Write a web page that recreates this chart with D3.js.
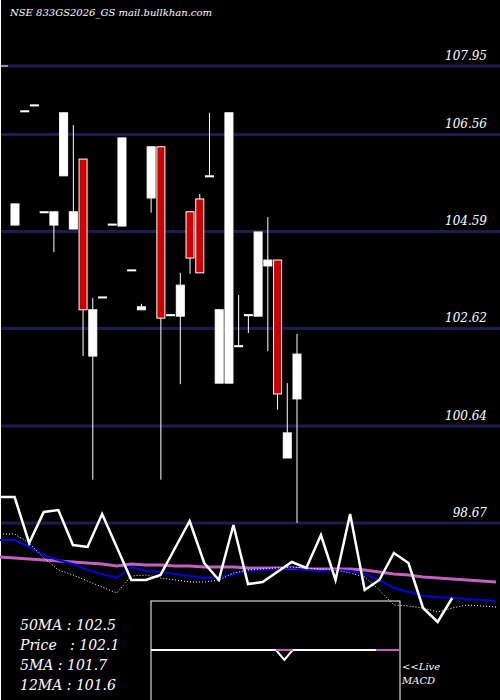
<!DOCTYPE html>
<html>
<head>
<meta charset="utf-8">
<script src="https://cdn.jsdelivr.net/npm/d3@7"></script>
<style>
  body { margin: 0; background: #000; }
  text { font-family: "DejaVu Serif", "Liberation Serif", serif; font-style: italic; fill: #fff; }
</style>
</head>
<body>
<svg id="chart" width="500" height="700"></svg>
<script>
// price levels drawn as grid lines
var levels = [107.95, 106.56, 104.59, 102.62, 100.64, 98.67];

// candles: open, close, high, low
var opens  = [104.72, 107.04, 107.16, 104.99, 104.72, 105.72, 104.64, 106.06, 102.06, 103.26, 104.74, 104.70, 103.81, 103.00, 105.27, 106.31, 102.90, 102.87, 104.99, 105.25, 105.72, 101.51, 101.51, 102.27, 102.90, 102.87, 103.89, 104.01, 99.99, 101.19];
var closes = [105.15, 107.04, 107.16, 104.99, 104.99, 107.00, 104.99, 103.00, 103.00, 103.26, 104.74, 106.49, 103.81, 103.06, 106.31, 102.83, 102.90, 103.50, 104.05, 103.75, 105.72, 103.00, 107.00, 102.27, 102.90, 104.58, 104.01, 101.29, 100.50, 102.10];
var highs  = [105.15, 107.04, 107.16, 104.99, 104.99, 107.00, 106.75, 106.06, 103.24, 103.26, 104.74, 106.49, 103.81, 103.12, 106.31, 106.31, 102.90, 103.75, 104.99, 105.35, 107.00, 103.00, 107.00, 103.30, 102.90, 104.58, 104.88, 104.01, 101.51, 102.51];
var lows   = [104.72, 107.04, 107.16, 104.99, 104.17, 105.72, 104.64, 102.06, 99.55, 103.26, 104.74, 104.70, 103.81, 103.00, 104.97, 99.55, 102.90, 101.49, 103.73, 103.75, 105.72, 101.51, 101.51, 102.27, 102.53, 102.87, 102.16, 100.97, 100.50, 98.67];

// lower panel indicator series
var oscLine = [497, 497, 543, 512, 510, 545, 547, 514, 547, 580, 580, 575, 548, 521, 563, 580, 525, 584, 582, 572, 562, 568, 535, 580, 514, 590, 580, 553, 563, 608, 622, 598];
var maFast  = [534, 534, 543, 558, 570, 575, 581, 587, 593, 576, 575, 578, 580, 582, 582, 580, 573, 570, 569, 568, 567, 568, 569, 570, 573, 577, 590, 605, 606, 608, 612, 608, 605, 606, 607];
var maMid   = [540, 540, 547, 555, 560, 564, 570, 574, 578, 567, 571, 572, 574, 576, 578, 577, 574, 571, 570, 569, 568, 570, 571, 570, 571, 574, 580, 588, 592, 596, 597, 598, 599, 600, 601];
var maSlow  = [557, 558, 559, 560, 561, 562, 563, 564, 566, 564, 565, 565, 566, 566, 567, 567, 567, 568, 568, 568, 568, 569, 569, 569, 569, 570, 572, 574, 575, 577, 578, 579, 580, 581, 582];

var macdVals = [0, 0, 0, 0, 0, 0, 0, 0, 0, 0, 0, 0, 0, 0, 0, 0, -10, 0, 0, 0, 0, 0, 0, 0, 0, 0, 0, 0];
var infoLabels = ["50MA : 102.5", "Price   : 102.1", "5MA : 101.7", "12MA : 101.6"];

var svg = d3.select('#chart');
var y = d3.scaleLinear().domain([107.95, 98.67]).range([66, 523]);
var x = d3.scaleLinear().domain([0, 29]).range([15, 297]);
var bw = 8;

svg.append('rect').attr('width', 500).attr('height', 700).attr('fill', '#000');

svg.selectAll('line.grid').data(levels).enter().append('line')
    .attr('x1', 0).attr('x2', 500)
    .attr('y1', function(d) { return y(d); }).attr('y2', function(d) { return y(d); })
    .attr('stroke', '#1c1c4e').attr('stroke-width', 3);

svg.selectAll('text.lvl').data(levels).enter().append('text')
    .attr('x', 487).attr('y', function(d) { return y(d) - 6; })
    .attr('text-anchor', 'end').attr('font-size', 12)
    .text(function(d) { return d.toFixed(2); });

svg.append('line').attr('x1', 0.5).attr('x2', 0.5).attr('y1', 0).attr('y2', 700).attr('stroke', '#fff');
svg.append('line').attr('x1', 0).attr('x2', 8).attr('y1', 66).attr('y2', 66).attr('stroke', '#fff');

svg.append('text').attr('x', 10).attr('y', 16).attr('font-size', 10)
    .text('NSE 833GS2026_GS mail.bullkhan.com');

var candles = d3.range(opens.length);
var g = svg.append('g');
g.selectAll('line.wick').data(candles).enter().append('line')
    .attr('x1', function(i) { return x(i); }).attr('x2', function(i) { return x(i); })
    .attr('y1', function(i) { return y(highs[i]); }).attr('y2', function(i) { return y(lows[i]); })
    .attr('stroke', '#fff').attr('stroke-width', 1);
g.selectAll('rect.body').data(candles).enter().append('rect')
    .attr('x', function(i) { return x(i) - bw / 2; })
    .attr('y', function(i) { return y(Math.max(opens[i], closes[i])); })
    .attr('width', bw)
    .attr('height', function(i) { return Math.max(1, Math.abs(y(opens[i]) - y(closes[i]))); })
    .attr('fill', function(i) { return closes[i] < opens[i] ? '#cc0000' : '#fff'; })
    .attr('stroke', '#fff').attr('stroke-width', 1);

// lower panel
var px = d3.scaleLinear().domain([0, 34]).range([0, 496]);
var line = d3.line().x(function(d, i) { return px(i); }).y(function(d) { return d; });

svg.append('path').datum(maSlow).attr('d', line).attr('fill', 'none').attr('stroke', '#c060c0').attr('stroke-width', 3);
svg.append('path').datum(maMid).attr('d', line).attr('fill', 'none').attr('stroke', '#0000dd').attr('stroke-width', 2);
svg.append('path').datum(maFast).attr('d', line).attr('fill', 'none').attr('stroke', '#fff').attr('stroke-width', 1).attr('stroke-dasharray', '1,2');
svg.append('path').datum(oscLine).attr('d', line).attr('fill', 'none').attr('stroke', '#fff').attr('stroke-width', 2.5);

svg.selectAll('text.info').data(infoLabels).enter().append('text')
    .attr('x', 20).attr('y', function(d, i) { return 630 + i * 20; })
    .attr('font-size', 14).attr('xml:space', 'preserve')
    .text(function(d) { return d; });

// MACD box
var mx = d3.scaleLinear().domain([0, macdVals.length - 1]).range([151, 376]);
svg.append('rect').attr('x', 151).attr('y', 601).attr('width', 249).attr('height', 110)
    .attr('fill', 'none').attr('stroke', '#fff');
svg.append('path').datum(macdVals)
    .attr('d', d3.line().x(function(d, i) { return mx(i); }).y(function(d) { return 650 - d; }))
    .attr('fill', 'none').attr('stroke', '#fff').attr('stroke-width', 2);
svg.append('line').attr('x1', 376).attr('x2', 400).attr('y1', 650).attr('y2', 650).attr('stroke', '#c060c0').attr('stroke-width', 2);
svg.append('line').attr('x1', mx(15)).attr('x2', mx(17)).attr('y1', 650).attr('y2', 650).attr('stroke', '#c060c0').attr('stroke-width', 2);
svg.append('text').attr('x', 402).attr('y', 670).attr('font-size', 10).text('<<Live');
svg.append('text').attr('x', 402).attr('y', 684).attr('font-size', 10).text('MACD');
</script>
</body>
</html>
